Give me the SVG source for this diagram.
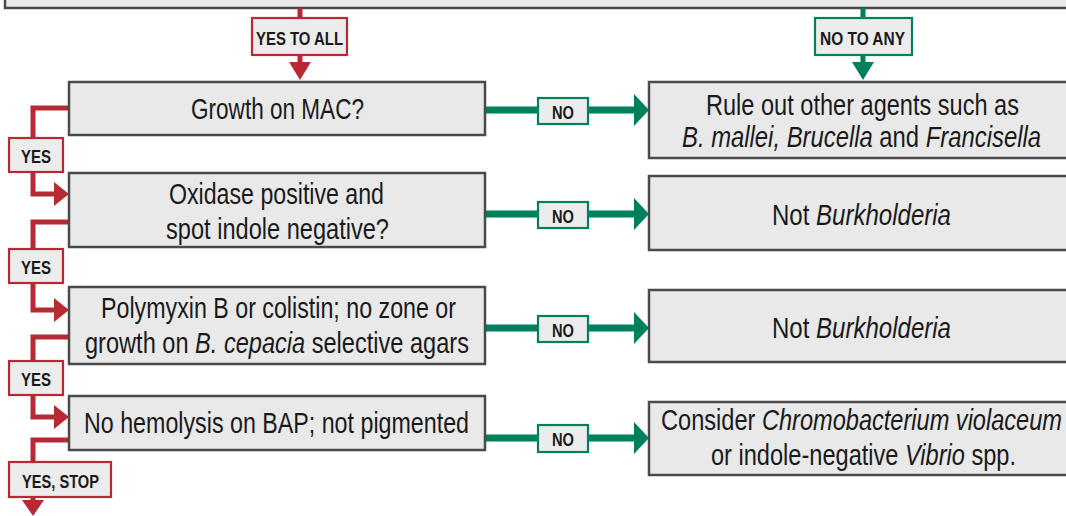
<svg xmlns="http://www.w3.org/2000/svg" width="1066" height="516" viewBox="0 0 1066 516">
<style>
.box{fill:#e9e9e9;stroke:#4a4a4a;stroke-width:2.5}
.t{font-family:"Liberation Sans",Arial,sans-serif;font-size:29px;fill:#1a1a1a}
.lab{font-family:"Liberation Sans",Arial,sans-serif;font-weight:bold;font-size:19px;fill:#1a1a1a}
.rl{fill:#ececec;stroke:#b82a33;stroke-width:2.2}
.gl{fill:#ececec;stroke:#00805c;stroke-width:2.2}
.r{fill:none;stroke:#b82a33;stroke-width:5}
.g{fill:none;stroke:#00805c;stroke-width:7}
.rh{fill:#b82a33}
.gh{fill:#00805c}
</style>
<rect width="1066" height="516" fill="#ffffff"/>
<g id="top"><rect class="box" x="5" y="-20" width="1080" height="28"/></g>
<g id="connectors">
<path class="r" d="M300 8V64"/>
<polygon class="rh" points="289,62 311,62 300,80"/>
<path class="g" d="M863 8V64" style="stroke-width:5"/>
<polygon class="gh" points="852,62 874,62 863,80"/>
<path class="r" d="M69 108H33V194H56"/>
<polygon class="rh" points="54,182 69,194 54,206"/>
<path class="r" d="M69 222H33V310H56"/>
<polygon class="rh" points="54,298 69,310 54,322"/>
<path class="r" d="M69 337H33V417H56"/>
<polygon class="rh" points="54,405 69,417 54,429"/>
<path class="r" d="M69 440H33V502"/>
<polygon class="rh" points="22,500 44,500 33,516"/>
<path class="g" d="M485 110H636"/>
<polygon class="gh" points="634,94 649,110 634,126"/>
<path class="g" d="M485 214H636"/>
<polygon class="gh" points="634,198 649,214 634,230"/>
<path class="g" d="M485 328H636"/>
<polygon class="gh" points="634,312 649,328 634,344"/>
<path class="g" d="M485 438H636"/>
<polygon class="gh" points="634,422 649,438 634,454"/>
</g>
<g id="lbl-yesall"><rect class="rl" x="252" y="18" width="95" height="37"/><text class="lab" x="256" y="45" textLength="87" lengthAdjust="spacingAndGlyphs">YES TO ALL</text></g>
<g id="lbl-noany"><rect class="gl" x="815" y="18" width="97" height="37"/><text class="lab" x="820" y="45" textLength="85" lengthAdjust="spacingAndGlyphs">NO TO ANY</text></g>
<g id="q1"><rect class="box" x="69" y="82" width="416" height="53"/><text class="t" x="191" y="119" textLength="173" lengthAdjust="spacingAndGlyphs">Growth on MAC?</text></g>
<g id="a1"><rect class="box" x="649" y="82" width="430" height="76"/><text class="t" x="706" y="115" textLength="313" lengthAdjust="spacingAndGlyphs">Rule out other agents such as</text><text class="t" x="682" y="147" textLength="359" lengthAdjust="spacingAndGlyphs"><tspan font-style="italic">B. mallei, Brucella</tspan> and <tspan font-style="italic">Francisella</tspan></text></g>
<g id="q2"><rect class="box" x="69" y="173" width="416" height="74"/><text class="t" x="169" y="204" textLength="215" lengthAdjust="spacingAndGlyphs">Oxidase positive and</text><text class="t" x="166" y="239" textLength="223" lengthAdjust="spacingAndGlyphs">spot indole negative?</text></g>
<g id="a2"><rect class="box" x="649" y="176" width="430" height="74"/><text class="t" x="772" y="225" textLength="179" lengthAdjust="spacingAndGlyphs">Not <tspan font-style="italic">Burkholderia</tspan></text></g>
<g id="q3"><rect class="box" x="69" y="287" width="416" height="77"/><text class="t" x="101" y="318" textLength="355" lengthAdjust="spacingAndGlyphs">Polymyxin B or colistin; no zone or</text><text class="t" x="85" y="353" textLength="384" lengthAdjust="spacingAndGlyphs">growth on <tspan font-style="italic">B. cepacia</tspan> selective agars</text></g>
<g id="a3"><rect class="box" x="649" y="290" width="430" height="72"/><text class="t" x="772" y="338" textLength="179" lengthAdjust="spacingAndGlyphs">Not <tspan font-style="italic">Burkholderia</tspan></text></g>
<g id="q4"><rect class="box" x="69" y="396" width="416" height="54"/><text class="t" x="84" y="433" textLength="385" lengthAdjust="spacingAndGlyphs">No hemolysis on BAP; not pigmented</text></g>
<g id="a4"><rect class="box" x="649" y="402" width="430" height="73"/><text class="t" x="661" y="430" textLength="401" lengthAdjust="spacingAndGlyphs">Consider <tspan font-style="italic">Chromobacterium violaceum</tspan></text><text class="t" x="711" y="465" textLength="305" lengthAdjust="spacingAndGlyphs">or indole-negative <tspan font-style="italic">Vibrio</tspan> spp.</text></g>
<g id="lbl-yes1"><rect class="rl" x="9" y="138" width="54" height="34"/><text class="lab" x="21" y="163" textLength="30" lengthAdjust="spacingAndGlyphs">YES</text></g>
<g id="lbl-yes2"><rect class="rl" x="9" y="249" width="54" height="34"/><text class="lab" x="21" y="274" textLength="30" lengthAdjust="spacingAndGlyphs">YES</text></g>
<g id="lbl-yes3"><rect class="rl" x="9" y="361" width="54" height="34"/><text class="lab" x="21" y="386" textLength="30" lengthAdjust="spacingAndGlyphs">YES</text></g>
<g id="lbl-stop"><rect class="rl" x="9" y="462" width="102" height="35"/><text class="lab" x="22" y="488" textLength="77" lengthAdjust="spacingAndGlyphs">YES, STOP</text></g>
<g id="lbl-no1"><rect class="gl" x="538" y="98" width="50" height="26"/><text class="lab" x="552" y="119" textLength="22" lengthAdjust="spacingAndGlyphs">NO</text></g>
<g id="lbl-no2"><rect class="gl" x="538" y="202" width="50" height="26"/><text class="lab" x="552" y="223" textLength="22" lengthAdjust="spacingAndGlyphs">NO</text></g>
<g id="lbl-no3"><rect class="gl" x="538" y="316" width="50" height="26"/><text class="lab" x="552" y="337" textLength="22" lengthAdjust="spacingAndGlyphs">NO</text></g>
<g id="lbl-no4"><rect class="gl" x="538" y="425" width="50" height="27"/><text class="lab" x="552" y="446" textLength="22" lengthAdjust="spacingAndGlyphs">NO</text></g>
</svg>
